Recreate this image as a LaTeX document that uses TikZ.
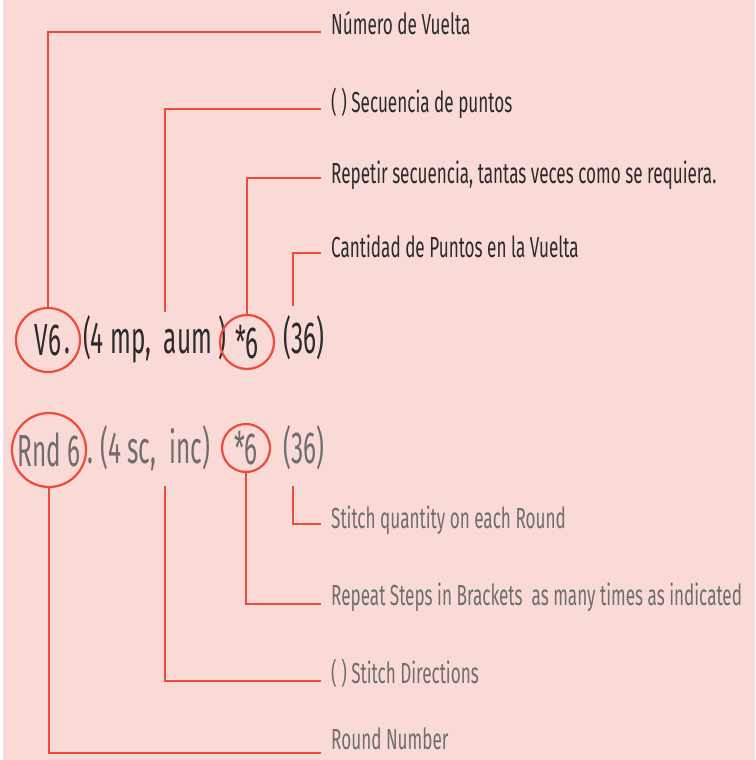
\documentclass[tikz,border=0pt]{standalone}
\usepackage{fontspec}
\newfontfamily\cf{Fira Sans}[FakeStretch=0.54]
\newfontfamily\lf{Fira Sans}[FakeStretch=0.59]
\usetikzlibrary{calc}
\definecolor{bgpink}{HTML}{FADAD7}
\definecolor{redline}{HTML}{EE4B3B}
\definecolor{darktext}{HTML}{2B2B2B}
\definecolor{graytext}{HTML}{6E6E6E}
\tikzset{
  link/.style={draw=redline, line width=2.5pt},
  ring/.style={circle, draw=redline, line width=2.2pt, inner sep=0pt},
  bigtxt/.style={font=\cf\fontsize{45}{45}\selectfont, inner sep=0pt},
  labtxt/.style={font=\lf\fontsize{29}{29}\selectfont, inner sep=0pt, anchor=base west},
}
\begin{document}
\begin{tikzpicture}[x=1pt,y=-1pt]
\useasboundingbox (0,0) rectangle (755,760);
\fill[white] (0,0) rectangle (3,760);
\fill[bgpink] (3,0) rectangle (755,760);

% top row (Spanish)
\node[ring, bigtxt, text=darktext, minimum size=64pt] (v6) at (48,340) {V6};
\node[bigtxt, text=darktext, anchor=base west] (dot1) at (64,353) {.};
\node[bigtxt, text=darktext, anchor=base west] (seq1) at (83,353) {(4 mp,\ \ aum )};
\node[ring, bigtxt, text=darktext, minimum size=54pt] (star1) at (247,342) {*6};
\node[bigtxt, text=darktext, anchor=base west] (tot1) at (283,353) {(36)};

% bottom row (English)
\node[ring, bigtxt, text=graytext, minimum size=74pt] (rnd) at (49,450) {Rnd 6};
\node[bigtxt, text=graytext, anchor=base west] (seq2) at (87,463) {.\,(4 sc,\ \ inc)};
\node[ring, bigtxt, text=graytext, minimum size=48pt] (star2) at (246,448) {*6};
\node[bigtxt, text=graytext, anchor=base west] (tot2) at (283,463) {(36)};

% labels
\node[labtxt, text=darktext] (lab1) at (331,35) {Número de Vuelta};
\node[labtxt, text=darktext] (lab2) at (331,112) {( ) Secuencia de puntos};
\node[labtxt, text=darktext] (lab3) at (331,183) {Repetir secuencia, tantas veces como se requiera.};
\node[labtxt, text=darktext] (lab4) at (331,257) {Cantidad de Puntos en la Vuelta};
\node[labtxt, text=graytext] (lab5) at (331,528) {Stitch quantity on each Round};
\node[labtxt, text=graytext] (lab6) at (331,605) {Repeat Steps in Brackets\ \ as many times as indicated};
\node[labtxt, text=graytext] (lab7) at (331,683) {( ) Stitch Directions};
\node[labtxt, text=graytext] (lab8) at (331,749) {Round Number};

% free ends
\coordinate (a2) at (165,312);
\coordinate (a4) at (293,306);
\coordinate (b5) at (293,486);
\coordinate (b7) at (165,486);

% connectors
\draw[link] (v6.north) |- ($(lab1.base west)+(-10,-3)$);
\draw[link] (a2) |- ($(lab2.base west)+(-10,-3)$);
\draw[link] (star1.north) |- ($(lab3.base west)+(-10,-5)$);
\draw[link] (a4) |- ($(lab4.base west)+(-10,-4)$);
\draw[link] (b5) |- ($(lab5.base west)+(-10,-4)$);
\draw[link] (star2.south) |- ($(lab6.base west)+(-10,-1)$);
\draw[link] (b7) |- ($(lab7.base west)+(-10,-2)$);
\draw[link] (rnd.south) |- ($(lab8.base west)+(-10,4)$);
\end{tikzpicture}
\end{document}
